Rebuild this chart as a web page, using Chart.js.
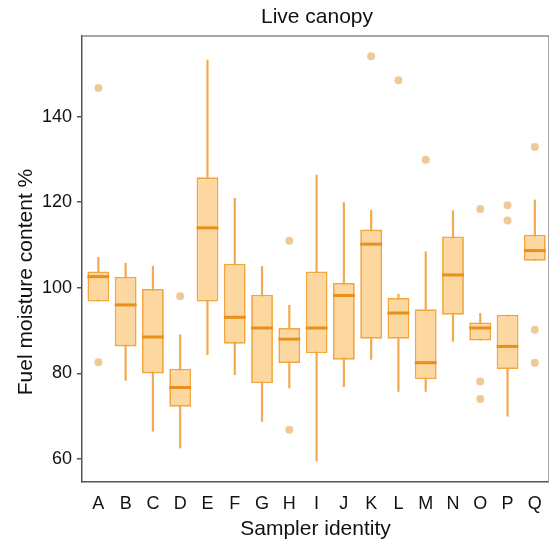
<!DOCTYPE html>
<html>
<head>
<meta charset="utf-8">
<script src="https://cdn.jsdelivr.net/npm/chart.js@4.4.1/dist/chart.umd.min.js"></script>
<style>
  html, body { margin: 0; padding: 0; background: #fff; overflow: hidden; }
  #wrap { width: 549px; height: 551px; }
</style>
</head>
<body>
<div id="wrap"><canvas id="chartBox" width="549" height="551"></canvas></div>
<script>
// ── DATA ─────────────────────────────────────────────────────────
const samplers    = ["A","B","C","D","E","F","G","H","I","J","K","L","M","N","O","P","Q"];
const whiskerLow  = [96.8, 78.3, 66.4, 62.5, 84.3, 79.6, 68.7, 76.5, 59.4, 76.8, 83.2, 75.7, 75.7, 87.4, 87.7, 69.9, 106.3];
const q1          = [96.8, 86.3, 80.0, 72.2, 96.8, 86.9, 77.7, 82.4, 84.7, 83.2, 88.1, 88.1, 78.6, 93.7, 87.7, 81.0, 106.3];
const medians     = [102.6, 96.0, 88.5, 76.7, 114.0, 93.1, 90.6, 88.0, 90.6, 98.2, 110.2, 94.1, 82.5, 103.0, 90.6, 86.3, 108.7];
const q3          = [103.8, 102.6, 99.7, 81.1, 125.8, 105.6, 98.4, 90.6, 103.8, 101.1, 113.6, 97.6, 95.0, 112.0, 91.9, 93.7, 112.4];
const whiskerHigh = [107.2, 105.8, 105.1, 89.1, 153.3, 121.0, 105.1, 96.0, 126.4, 120.0, 118.2, 98.6, 108.5, 118.1, 94.1, 93.7, 120.6];

// outliers: sampler index + value
const outlierIdx = [0, 0, 3, 7, 7, 10, 11, 12, 14, 14, 14, 15, 15, 16, 16, 16];
const outlierVal = [146.7, 82.6, 98.0, 111.0, 66.8, 154.1, 148.5, 129.9, 118.4, 78.1, 74.0, 119.3, 115.7, 132.9, 90.2, 82.5];

const yTicks = [60, 80, 100, 120, 140];

const FILL    = "#fcd8a0";
const EDGE    = "#f3a640";
const MEDIAN  = "#e98f1c";
const WHISKER = "#f2aa50";
const POINT   = "#efca98";
const AXIS    = "#555555";
const INK     = "#111111";
const FONT    = "'Liberation Sans', Arial, sans-serif";

// ── whiskers behind boxes, medians + frame on top ────────────────
const boxPlugin = {
  id: "boxParts",
  beforeDatasetsDraw(chart) {
    const { ctx, scales: { x, y } } = chart;
    ctx.save();
    ctx.strokeStyle = WHISKER;
    ctx.lineWidth = 2.2;
    samplers.forEach((s, i) => {
      const px = x.getPixelForValue(i);
      ctx.beginPath();
      ctx.moveTo(px, y.getPixelForValue(whiskerLow[i]));
      ctx.lineTo(px, y.getPixelForValue(whiskerHigh[i]));
      ctx.stroke();
    });
    ctx.restore();
  },
  afterDatasetsDraw(chart) {
    const { ctx, scales: { y } } = chart;
    const bars = chart.getDatasetMeta(0).data;
    ctx.save();
    ctx.strokeStyle = MEDIAN;
    ctx.lineWidth = 3;
    bars.forEach((bar, i) => {
      const py = y.getPixelForValue(medians[i]);
      ctx.beginPath();
      ctx.moveTo(bar.x - bar.width / 2, py);
      ctx.lineTo(bar.x + bar.width / 2, py);
      ctx.stroke();
    });
    ctx.restore();
  },
  afterDraw(chart) {
    const { ctx, chartArea: a } = chart;
    ctx.save();
    // top / right frame
    ctx.strokeStyle = "#8a8a8a";
    ctx.lineWidth = 1.5;
    ctx.beginPath();
    ctx.moveTo(a.left, a.top);
    ctx.lineTo(a.right, a.top);
    ctx.lineTo(a.right, a.bottom);
    ctx.stroke();
    // titles
    ctx.fillStyle = INK;
    ctx.font = "21px " + FONT;
    ctx.textAlign = "center";
    ctx.textBaseline = "alphabetic";
    ctx.fillText("Live canopy", 317, 23);
    ctx.translate(32, 282);
    ctx.rotate(-Math.PI / 2);
    ctx.fillText("Fuel moisture content %", 0, 0);
    ctx.restore();
  },
};

// ── CHART ────────────────────────────────────────────────────────
new Chart(document.getElementById("chartBox"), {
  type: "bar",
  data: {
    datasets: [
      {
        label: "box",
        data: samplers.map((s, i) => ({ x: i, y: [q1[i], q3[i]] })),
        backgroundColor: FILL,
        borderColor: EDGE,
        borderWidth: 1.8,
        borderSkipped: false,
        categoryPercentage: 1,
        barPercentage: 0.8,
      },
      {
        type: "scatter",
        label: "outliers",
        data: outlierIdx.map((g, k) => ({ x: g, y: outlierVal[k] })),
        pointRadius: 4,
        pointBackgroundColor: POINT,
        pointBorderWidth: 0,
      },
    ],
  },
  options: {
    responsive: false,
    animation: false,
    layout: { autoPadding: false, padding: { top: 36, left: 0, right: 0, bottom: 0 } },
    plugins: { legend: { display: false }, tooltip: { enabled: false }, title: { display: false } },
    scales: {
      x: {
        type: "linear",
        offset: false,
        min: -0.6,
        max: 16.52,
        afterBuildTicks: s => { s.ticks = samplers.map((l, i) => ({ value: i })); },
        afterFit: s => { s.height = 69; s.paddingLeft = 0; s.paddingRight = 0; },
        grid: { display: false },
        border: { display: true, color: AXIS, width: 1.5 },
        ticks: {
          autoSkip: false,
          maxRotation: 0,
          padding: 3,
          color: INK,
          font: { size: 18, family: FONT },
          callback: v => samplers[v],
        },
        title: {
          display: true,
          text: "Sampler identity",
          color: INK,
          font: { size: 21, family: FONT },
          padding: { top: 0, bottom: 9 },
        },
      },
      y: {
        min: 54.62,
        max: 158.83,
        afterBuildTicks: s => { s.ticks = yTicks.map(v => ({ value: v })); },
        afterFit: s => { s.width = 82; s.paddingTop = 0; s.paddingBottom = 0; },
        grid: { drawOnChartArea: false, drawTicks: true, tickLength: 5, color: AXIS, lineWidth: 1.5 },
        border: { display: true, color: AXIS, width: 1.5 },
        ticks: {
          padding: 5,
          color: INK,
          font: { size: 18, family: FONT },
        },
      },
    },
  },
  plugins: [boxPlugin],
});
</script>
</body>
</html>
